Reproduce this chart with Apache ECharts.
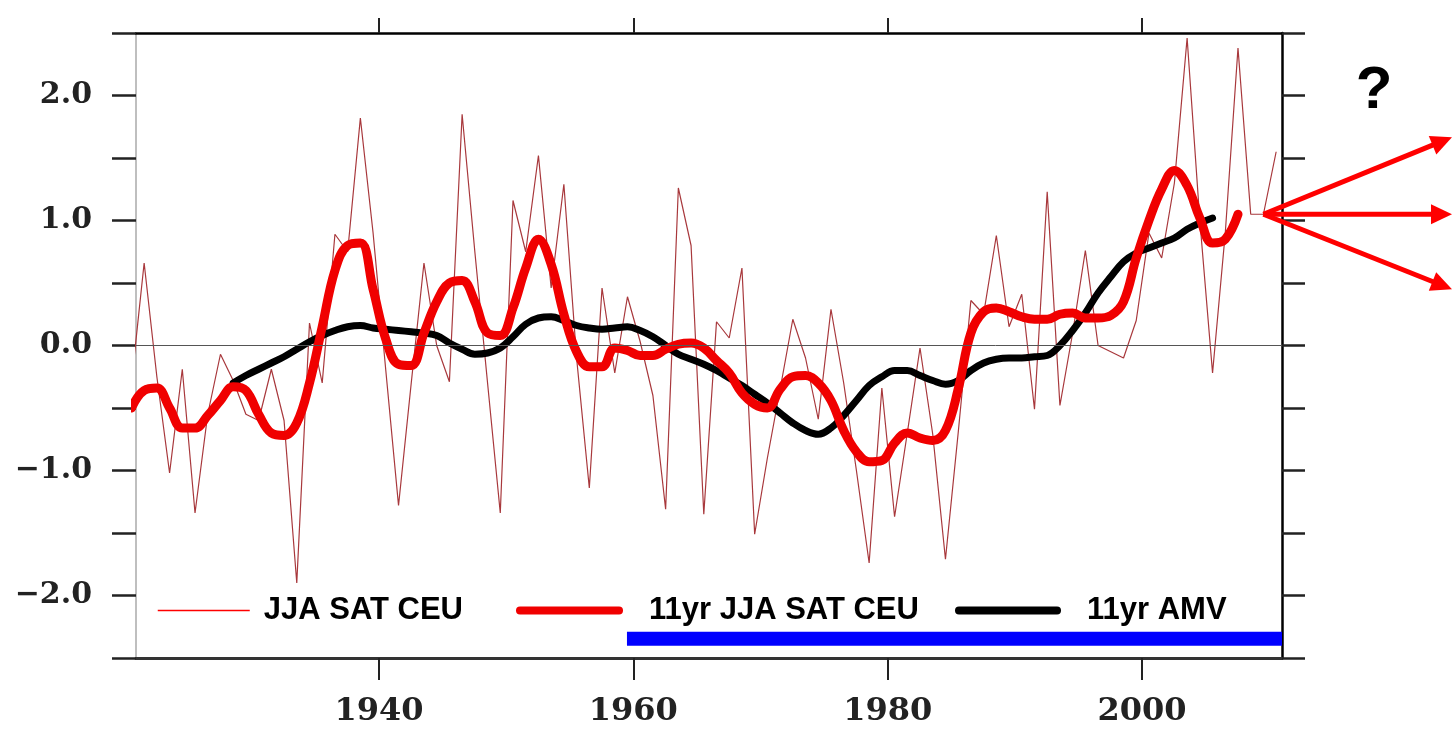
<!DOCTYPE html>
<html>
<head>
<meta charset="utf-8">
<title>JJA SAT CEU / AMV</title>
<script src="https://cdn.jsdelivr.net/npm/echarts@6/dist/echarts.min.js"></script>
<style>
  html, body { margin: 0; padding: 0; background: #fff; }
  #chart { width: 1454px; height: 731px; }
</style>
</head>
<body>
<div id="chart"></div>
<script>
// JJA surface air temperature anomaly, central Europe, one value per summer (1920-2010)
const satStartYear = 1920;
const satValues = [
  -0.30, 0.66, -0.25, -1.02, -0.19, -1.34, -0.55, -0.07, -0.28, -0.55,
  -0.60, -0.19, -0.60, -1.90, 0.18, -0.30, 0.89, 0.75, 1.82, 0.90,
  -0.20, -1.28, -0.30, 0.66, 0.00, -0.29, 1.85, 0.75, -0.30, -1.34,
  1.16, 0.75, 1.52, 0.46, 1.29, -0.10, -1.14, 0.46, -0.22, 0.39,
  0.03, -0.40, -1.31, 1.26, 0.80, -1.35, 0.19, 0.06, 0.62, -1.51,
  -0.90, -0.35, 0.21, -0.10, -0.59, 0.29, -0.30, -1.00, -1.74, -0.34,
  -1.37, -0.70, -0.02, -0.71, -1.71, -0.70, 0.36, 0.25, 0.88, 0.15,
  0.41, -0.51, 1.23, -0.48, 0.10, 0.76, 0.00, -0.05, -0.10, 0.20,
  0.90, 0.70, 1.30, 2.46, 1.00, -0.22, 0.90, 2.38, 1.05, 1.05, 1.55
];

// 11yr smoothed JJA SAT CEU (1920-2007)
const sat11StartYear = 1920;
const sat11Values = [
  -0.50, -0.36, -0.34, -0.50, -0.66, -0.66, -0.56, -0.44, -0.33, -0.36,
  -0.55, -0.70, -0.72, -0.62, -0.30, 0.15, 0.60, 0.80, 0.82, 0.45,
  0.05, -0.15, -0.16, 0.10, 0.35, 0.50, 0.52, 0.35, 0.10, 0.08,
  0.30, 0.62, 0.85, 0.65, 0.25, -0.05, -0.17, -0.17, -0.02, -0.04,
  -0.08, -0.08, -0.03, 0.01, 0.02, -0.02, -0.12, -0.22, -0.38, -0.47,
  -0.50, -0.35, -0.25, -0.24, -0.30, -0.44, -0.68, -0.85, -0.93, -0.92,
  -0.78, -0.70, -0.74, -0.76, -0.68, -0.35, 0.10, 0.27, 0.30, 0.27,
  0.23, 0.21, 0.21, 0.25, 0.26, 0.22, 0.22, 0.24, 0.35, 0.70,
  1.00, 1.25, 1.40, 1.28, 1.02, 0.82, 0.85, 1.05
];

// 11yr smoothed AMV index (1928-2005)
const amvStartYear = 1928;
const amvValues = [
  -0.30, -0.24, -0.19, -0.14, -0.09, -0.03, 0.03, 0.08, 0.12, 0.15,
  0.16, 0.14, 0.13, 0.12, 0.11, 0.10, 0.08, 0.02, -0.03, -0.07,
  -0.06, -0.02, 0.07, 0.17, 0.22, 0.23, 0.20, 0.16, 0.14, 0.13,
  0.14, 0.15, 0.12, 0.07, 0.00, -0.07, -0.11, -0.15, -0.20, -0.26,
  -0.32, -0.39, -0.46, -0.54, -0.62, -0.68, -0.71, -0.66, -0.56, -0.44,
  -0.32, -0.25, -0.20, -0.20, -0.24, -0.28, -0.31, -0.28, -0.20, -0.14,
  -0.11, -0.10, -0.10, -0.09, -0.08, 0.00, 0.12, 0.26, 0.42, 0.55,
  0.67, 0.74, 0.78, 0.82, 0.86, 0.93, 0.98, 1.02
];

const xTickYears = [1940, 1960, 1980, 2000];
const periodYears = [1959.5, 2011];   // blue bar
const periodLevel = -2.345;
const arrowFromYear = 2009;
const seriesNames = ['JJA SAT CEU', '11yr JJA SAT CEU', '11yr AMV'];

// summer means sit in the middle of JJA
const midSummer = 0.54;
function toPoints(startYear, values) {
  return values.map((v, i) => [startYear + i + midSummer, v]);
}

const serif = '"DejaVu Serif", serif';
const sans = '"Liberation Sans", Arial, sans-serif';
const legendText = { fontFamily: sans, fontWeight: 'bold', fontSize: 31, color: '#000' };

var myChart = echarts.init(document.getElementById('chart'));
var option = {
  animation: false,
  backgroundColor: '#fff',
  grid: { left: 136, right: 172, top: 33, bottom: 73 },
  xAxis: [
    {
      type: 'value', position: 'bottom', min: 1920.9, max: 2011,
      axisLine: { onZero: false, lineStyle: { color: '#333', width: 3 } },
      axisTick: { customValues: xTickYears, length: 22, lineStyle: { color: '#222', width: 2 } },
      axisLabel: {
        customValues: xTickYears, margin: 38, fontFamily: serif, fontWeight: 'bold', fontSize: 32, color: '#222',
        formatter: v => String(v)
      },
      splitLine: { show: false }
    },
    {
      type: 'value', position: 'top', min: 1920.9, max: 2011,
      axisLine: { onZero: false, lineStyle: { color: '#000', width: 2.5 } },
      axisTick: { customValues: xTickYears, length: 15, lineStyle: { color: '#222', width: 2 } },
      axisLabel: { show: false },
      splitLine: { show: false }
    }
  ],
  yAxis: [
    {
      type: 'value', position: 'left', min: -2.5, max: 2.5, interval: 0.5,
      axisLine: { show: true, onZero: false, lineStyle: { color: '#aaa', width: 1.5 } },
      axisTick: { length: 24, lineStyle: { color: '#222', width: 2.5 } },
      axisLabel: {
        margin: 44, fontFamily: serif, fontWeight: 'bold', fontSize: 30, color: '#222',
        formatter: v => Math.abs(v - Math.round(v)) < 1e-6 ? (v < 0 ? '\u2212' : '') + Math.abs(v).toFixed(1) : ''
      },
      splitLine: { show: false }
    },
    {
      type: 'value', position: 'right', min: -2.5, max: 2.5, interval: 0.5,
      axisLine: { show: true, onZero: false, lineStyle: { color: '#000', width: 2.5 } },
      axisTick: { length: 23, lineStyle: { color: '#222', width: 2.5 } },
      axisLabel: { show: false },
      splitLine: { show: false }
    }
  ],
  legend: [
    {
      data: [seriesNames[0]], left: 157, top: 595, itemWidth: 92, itemHeight: 14, padding: 0,
      selectedMode: false, lineStyle: { width: 1.5, color: '#ff0000' }, itemStyle: { opacity: 0 },
      textStyle: Object.assign({ padding: [0, 0, 0, 9] }, legendText)
    },
    {
      data: [seriesNames[1]], left: 516, top: 595, itemWidth: 99, itemHeight: 14, padding: 0,
      selectedMode: false, lineStyle: { width: 8, color: '#f00000' }, itemStyle: { opacity: 0 },
      textStyle: Object.assign({ padding: [0, 0, 0, 25] }, legendText)
    },
    {
      data: [seriesNames[2]], left: 955, top: 595, itemWidth: 98, itemHeight: 14, padding: 0,
      selectedMode: false, lineStyle: { width: 8, color: '#000' }, itemStyle: { opacity: 0 },
      textStyle: Object.assign({ padding: [0, 0, 0, 25] }, legendText)
    }
  ],
  series: [
    {
      name: seriesNames[0], type: 'line', symbol: 'none', z: 2,
      data: toPoints(satStartYear, satValues),
      lineStyle: { color: '#a8383c', width: 1.2 },
      itemStyle: { color: '#a8383c' },
      markLine: {
        silent: true, symbol: 'none', label: { show: false },
        lineStyle: { color: '#555', width: 1, type: 'solid' },
        data: [{ yAxis: 0 }]
      }
    },
    {
      name: seriesNames[2], type: 'line', symbol: 'none', smooth: 0.4, z: 3,
      data: toPoints(amvStartYear, amvValues),
      lineStyle: { color: '#000', width: 7, cap: 'round', join: 'round' },
      itemStyle: { color: '#000' }
    },
    {
      name: seriesNames[1], type: 'line', symbol: 'none', smooth: 0.4, z: 4,
      data: toPoints(sat11StartYear, sat11Values),
      lineStyle: { color: '#f00000', width: 9, cap: 'round', join: 'round' },
      itemStyle: { color: '#f00000' }
    },
    {
      name: 'period', type: 'line', symbol: 'none', z: 4,
      data: periodYears.map(y => [y, periodLevel]),
      lineStyle: { color: '#0000ff', width: 14 },
      itemStyle: { color: '#0000ff' }
    }
  ]
};
option && myChart.setOption(option);

// "?" and the three possible continuations from the last summers
function arrow(from, to) {
  const dx = to[0] - from[0], dy = to[1] - from[1];
  const len = Math.hypot(dx, dy), ux = dx / len, uy = dy / len;
  const headLen = 21, headHalf = 10;
  const bx = to[0] - ux * headLen, by = to[1] - uy * headLen;
  return [
    { type: 'line', shape: { x1: from[0], y1: from[1], x2: bx + ux * 2, y2: by + uy * 2 }, style: { stroke: '#ff0000', lineWidth: 5 }, z: 10 },
    { type: 'polygon', shape: { points: [to, [bx - uy * headHalf, by + ux * headHalf], [bx + uy * headHalf, by - ux * headHalf]] }, style: { fill: '#ff0000' }, z: 10 }
  ];
}
const origin = myChart.convertToPixel({ xAxisIndex: 0, yAxisIndex: 0 },
  [arrowFromYear + midSummer, satValues[arrowFromYear - satStartYear]]);
const tipX = myChart.getWidth() - 2;
const graphics = []
  .concat(arrow(origin, [tipX, origin[1] - 77]))
  .concat(arrow(origin, [tipX, origin[1]]))
  .concat(arrow(origin, [tipX, origin[1] + 75]));
graphics.push({
  type: 'text', x: 1374, y: 91, z: 10,
  style: { text: '?', font: 'bold 60px ' + sans, fill: '#000', align: 'center', verticalAlign: 'middle' }
});
myChart.setOption({ graphic: graphics });

window.addEventListener('resize', () => {
  myChart.resize()
})
</script>
</body>
</html>
